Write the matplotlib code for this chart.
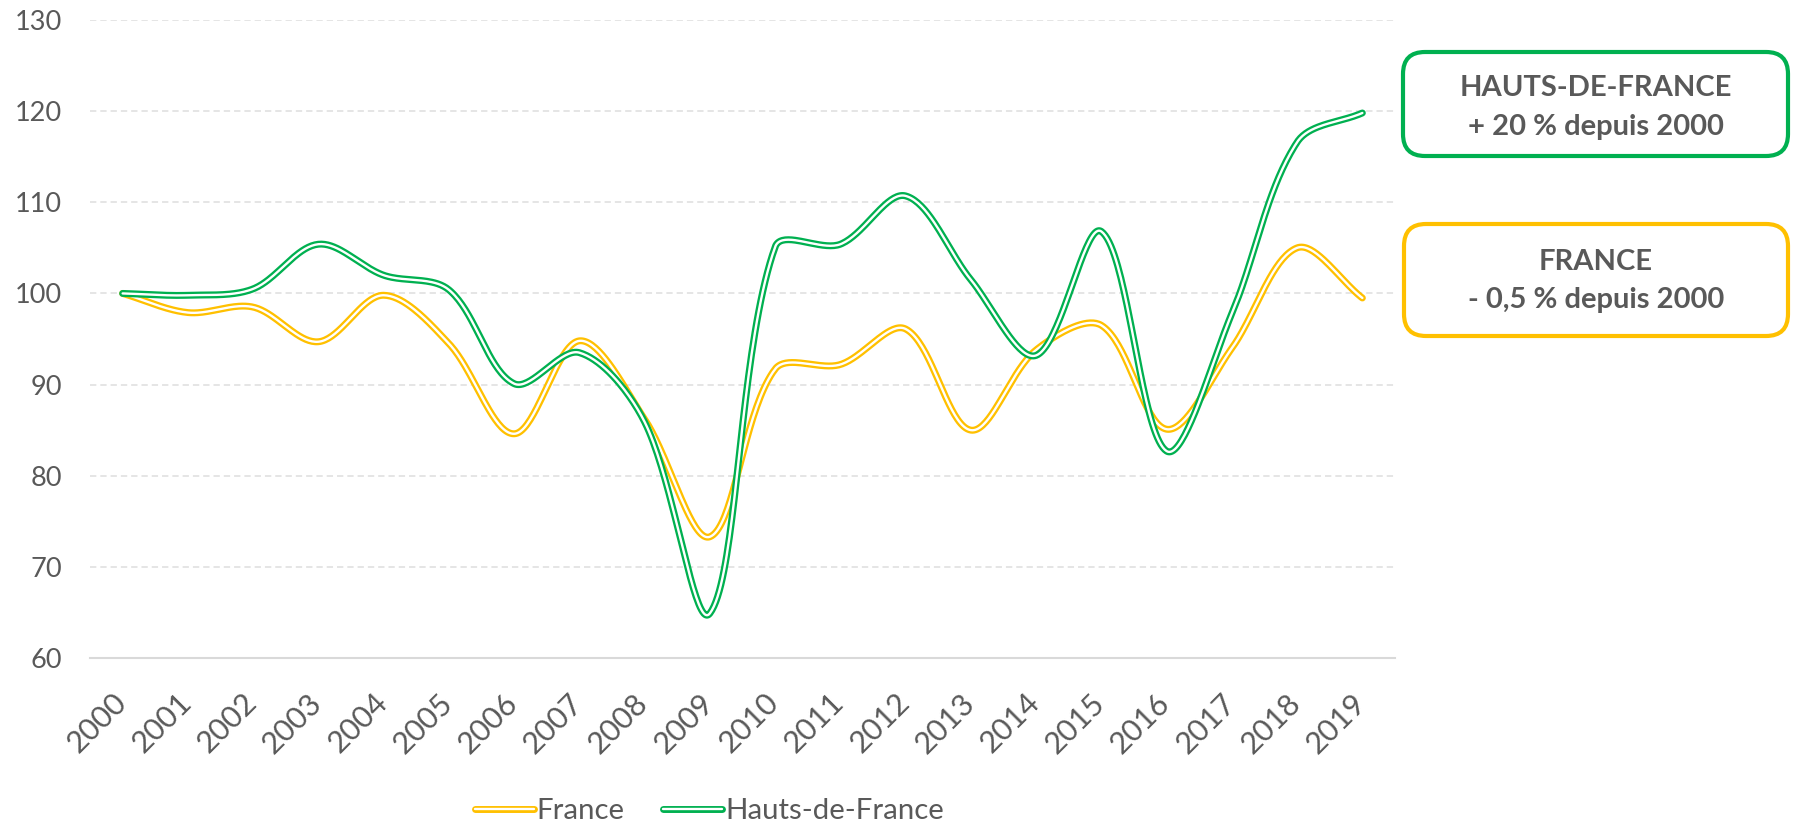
import numpy as np
import matplotlib
matplotlib.use("Agg")
import matplotlib.pyplot as plt
from matplotlib.patches import FancyBboxPatch
from matplotlib.legend_handler import HandlerTuple
from matplotlib.transforms import ScaledTranslation

# ---------------- data ----------------
years = [str(y) for y in range(2000, 2020)]
france = [100, 97.9, 98.5, 94.7, 99.8, 94.5, 84.6, 94.8, 86.2, 73.3,
          91.7, 92.2, 96.1, 85.0, 93.8, 96.5, 85.1, 94.0, 105.0, 99.5]
hdf = [100, 99.8, 100.5, 105.4, 102.0, 100.4, 90.1, 93.5, 85.9, 64.9,
       105.1, 105.4, 110.7, 101.5, 93.2, 106.8, 82.7, 97.8, 116.6, 119.8]
series_names = ["France", "Hauts-de-France"]
box_titles = ["HAUTS-DE-FRANCE", "FRANCE"]
box_subtitles = ["+ 20 % depuis 2000", "- 0,5 % depuis 2000"]
yticks = [60, 70, 80, 90, 100, 110, 120, 130]

YELLOW = "#FFC000"
GREEN = "#00B050"
TXT = "#595959"
FONT = "Lato"

plt.rcParams["font.family"] = [FONT, "DejaVu Sans"]

W, H = 1796, 826
AX_L, AX_R, AX_T, AX_B = 90, 1395, 20, 658
PX_X = (AX_R - AX_L) / len(years)      # pixels per category
PX_Y = (AX_B - AX_T) / (130 - 60)      # pixels per unit


def smooth(vals, n=40):
    """Excel-like smoothed line: Bezier segments whose control arms are
    scaled by neighbouring segment lengths (computed in screen space)."""
    pts = np.column_stack([np.arange(len(vals), dtype=float) * PX_X,
                           np.asarray(vals, float) * PX_Y])
    last = len(pts) - 1

    def arms(i):
        p0 = pts[max(i - 1, 0)]
        p1 = pts[i]
        p2 = pts[min(i + 1, last)]
        d01 = np.linalg.norm(p1 - p0)
        d12 = np.linalg.norm(p2 - p1)
        tot = d01 + d12
        if tot == 0:
            return np.zeros(2), np.zeros(2)
        tan = p2 - p0
        fwd = tan * d12 / tot / 3.0
        bwd = tan * d01 / tot / 3.0
        return fwd, bwd

    out = []
    for i in range(last):
        p1, p2 = pts[i], pts[i + 1]
        f1, _ = arms(i)
        _, b2 = arms(i + 1)
        c1 = p1 + f1
        c2 = p2 - b2
        t = np.linspace(0, 1, n, endpoint=(i == last - 1))[:, None]
        seg = (1 - t) ** 3 * p1 + 3 * (1 - t) ** 2 * t * c1 + 3 * (1 - t) * t ** 2 * c2 + t ** 3 * p2
        out.append(seg)
    out = np.vstack(out)
    return out[:, 0] / PX_X, out[:, 1] / PX_Y


fig = plt.figure(figsize=(W / 100, H / 100), dpi=100)
ax = fig.add_axes([AX_L / W, (H - AX_B) / H, (AX_R - AX_L) / W, (AX_B - AX_T) / H])

handles = []
for vals, col in [(france, YELLOW), (hdf, GREEN)]:
    xs, ys = smooth(vals)
    outer, = ax.plot(xs, ys, color=col, lw=5.0, solid_capstyle="round", solid_joinstyle="round", zorder=3)
    inner, = ax.plot(xs, ys, color="white", lw=1.7, solid_capstyle="round", solid_joinstyle="round", zorder=3)
    handles.append((outer, inner))

ax.set_xlim(-0.5, len(years) - 0.5)
ax.set_ylim(60, 130)
ax.set_yticks(yticks)
ax.set_xticks(range(len(years)))
ax.set_xticklabels(years, rotation=45, ha="right", va="center", rotation_mode="anchor")

ax.yaxis.grid(True, linestyle=(0, (3.5, 2.2)), color="#E3E3E3", lw=1.3, zorder=0)
ax.set_axisbelow(True)
for s in ["left", "right", "top"]:
    ax.spines[s].set_visible(False)
ax.spines["bottom"].set_color("#D9D9D9")
ax.spines["bottom"].set_linewidth(1.5)
ax.spines["bottom"].set_zorder(1)

ax.tick_params(axis="both", length=0, colors=TXT)
ax.tick_params(axis="y", pad=20, labelsize=19.5)
ax.tick_params(axis="x", pad=29, labelsize=22)
off = ScaledTranslation(-1 / 100, 0, fig.dpi_scale_trans)
for lab in ax.get_xticklabels():
    lab.set_transform(lab.get_transform() + off)

leg = fig.legend(handles, series_names, loc="center left",
                 bbox_to_anchor=(475 / W, 1 - 811 / H), ncol=2, frameon=False,
                 handler_map={tuple: HandlerTuple(ndivide=1, pad=0)},
                 handlelength=2.0, handletextpad=0.1, columnspacing=1.3,
                 borderpad=0, borderaxespad=0, fontsize=21.2)
for t in leg.get_texts():
    t.set_color(TXT)

# overlay in pixel coordinates for the annotation boxes
ov = fig.add_axes([0, 0, 1, 1], zorder=5)
ov.set_xlim(0, W)
ov.set_ylim(H, 0)
ov.axis("off")
ov.patch.set_alpha(0)

boxes = [((1403, 52, 385, 104), GREEN, 96, 135),
         ((1404, 224, 384, 112), YELLOW, 270, 308)]
for (bx, by, bw, bh), col, yb1, yb2 in boxes:
    ov.add_patch(FancyBboxPatch((bx, by), bw, bh,
                                boxstyle="round,pad=0,rounding_size=22",
                                lw=3, ec=col, fc="white"))
for i, ((bx, by, bw, bh), col, yb1, yb2) in enumerate(boxes):
    cx = bx + bw / 2
    ov.text(cx, yb1, box_titles[i], ha="center", va="baseline", fontsize=21,
            fontweight="bold", color=TXT)
    ov.text(cx, yb2, box_subtitles[i], ha="center", va="baseline", fontsize=21,
            fontweight="bold", color=TXT)

fig.savefig("out.png", dpi=100)
